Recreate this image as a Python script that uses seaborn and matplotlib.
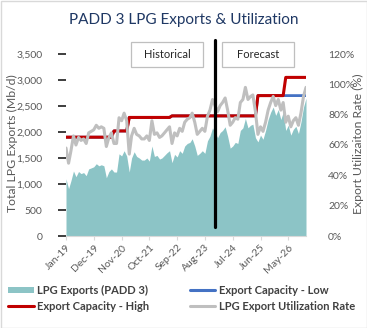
import matplotlib
matplotlib.use("Agg")
import matplotlib.pyplot as plt
from matplotlib.patches import Rectangle, Patch
from matplotlib.lines import Line2D
from matplotlib.ticker import FuncFormatter, PercentFormatter
import pandas as pd
import seaborn as sns

# Monthly series, Jan-2019 .. Dec-2026
months = pd.date_range("2019-01-01", periods=96, freq="MS")

# LPG exports, PADD 3 (Mb/d)
exports = [
    1100, 910, 1060, 1250, 1140, 1240, 1200, 1220, 1160, 1290, 1310, 1330,
    1390, 1350, 1370, 1350, 1120, 1240, 1290, 1230, 1230, 1580, 1540, 1640,
    1540, 1230, 1500, 1620, 1530, 1500, 1460, 1460, 1500, 1440, 1730, 1530,
    1550, 1480, 1500, 1550, 1600, 1640, 1410, 1570, 1520, 1640, 1590, 1730,
    1780, 1800, 1870, 1730, 1550, 1590, 1640, 1590, 1830, 1920, 2080, 1990,
    1890, 1990, 2030, 2100, 1920, 1690, 1730, 1800, 1780, 2030, 2080, 2260,
    2080, 2130, 2150, 1890, 1810, 1940, 1860, 2030, 2240, 2380, 2480, 2320,
    2430, 2240, 2380, 2030, 2130, 1940, 2050, 2110, 1970, 2190, 2480, 2650,
]

# Export capacity, low case (Mb/d)
cap_low = [
    1900, 1900, 1900, 1900, 1900, 1900, 1900, 1900, 1900, 1900, 1900, 1900,
    1900, 1900, 1900, 1900, 1900, 1900, 1900, 2020, 2020, 2020, 2020, 2020,
    2020, 2280, 2280, 2280, 2280, 2280, 2280, 2280, 2280, 2280, 2280, 2280,
    2280, 2280, 2280, 2280, 2280, 2280, 2310, 2310, 2310, 2310, 2310, 2310,
    2310, 2310, 2310, 2310, 2310, 2310, 2310, 2310, 2310, 2310, 2310, 2310,
    2310, 2310, 2310, 2310, 2310, 2310, 2310, 2310, 2310, 2310, 2310, 2310,
    2310, 2310, 2310, 2310, 2700, 2700, 2700, 2700, 2700, 2700, 2700, 2700,
    2700, 2700, 2700, 2700, 2700, 2700, 2700, 2700, 2700, 2700, 2700, 2700,
]

# Export capacity, high case (Mb/d)
cap_high = [
    1900, 1900, 1900, 1900, 1900, 1900, 1900, 1900, 1900, 1900, 1900, 1900,
    1900, 1900, 1900, 1900, 1900, 1900, 1900, 2020, 2020, 2020, 2020, 2020,
    2020, 2280, 2280, 2280, 2280, 2280, 2280, 2280, 2280, 2280, 2280, 2280,
    2280, 2280, 2280, 2280, 2280, 2280, 2310, 2310, 2310, 2310, 2310, 2310,
    2310, 2310, 2310, 2310, 2310, 2310, 2310, 2310, 2310, 2310, 2310, 2310,
    2310, 2310, 2310, 2310, 2310, 2310, 2310, 2310, 2310, 2310, 2310, 2310,
    2310, 2310, 2310, 2310, 2700, 2700, 2700, 2700, 2700, 2700, 2700, 2700,
    2700, 2700, 2700, 3050, 3050, 3050, 3050, 3050, 3050, 3050, 3050, 3050,
]

# Export utilization rate (%)
util = [
    58, 48, 56, 66, 60, 65, 63, 64, 61, 68, 69, 70,
    73, 71, 72, 71, 59, 65, 68, 61, 61, 78, 76, 81,
    76, 54, 66, 71, 67, 66, 64, 64, 66, 63, 76, 67,
    68, 65, 66, 68, 70, 72, 61, 68, 66, 71, 69, 75,
    77, 78, 81, 75, 67, 69, 71, 69, 79, 83, 90, 86,
    82, 86, 88, 91, 83, 73, 75, 78, 77, 88, 90, 98,
    90, 92, 93, 82, 67, 72, 69, 75, 83, 88, 92, 86,
    90, 83, 88, 75, 79, 72, 76, 78, 73, 81, 92, 98,
]

left_ticks = [0, 500, 1000, 1500, 2000, 2500, 3000, 3500]
right_ticks = [0, 20, 40, 60, 80, 100, 120]
split_month = 59          # last historical month (Dec-23)
split_span = (170, 3760)  # divider extent in Mb/d units

TEAL = "#8CC4C6"
RED = "#C00000"
BLUE = "#4472C4"
GREY = "#BFBFBF"
TXT = "#595959"
NAVY = "#1F3864"

sns.set_theme(style="white")
plt.rcParams["font.family"] = ["Lato", "DejaVu Sans"]

fig = plt.figure(figsize=(3.67, 3.28), dpi=100)
W, H = 367, 328
ax = fig.add_axes([66 / W, 1 - 236 / H, (306 - 66) / W, (236 - 54) / H])

# Exports area
ax.fill_between(months, exports, color=TEAL, linewidth=0, zorder=1)
sns.lineplot(x=months, y=cap_low, ax=ax, color=BLUE, linewidth=2.0, legend=False, zorder=2)
sns.lineplot(x=months, y=cap_high, ax=ax, color=RED, linewidth=2.2, legend=False, zorder=3)

ax.set_ylim(0, 3500)
ax.set_xlim(months[0], months[-1])
ax.set_yticks(left_ticks)
ax.yaxis.set_major_formatter(FuncFormatter(lambda v, p: f"{int(v):,}"))
ax.set_xticks(months[::11])
ax.set_xticklabels([d.strftime("%b-%y") for d in months[::11]], rotation=45,
                   ha="right", rotation_mode="anchor")
ax.set_xlabel("")
ax.set_ylabel("")
for s in ["top", "left", "right"]:
    ax.spines[s].set_visible(False)
ax.spines["bottom"].set_color("#D9D9D9")
ax.spines["bottom"].set_linewidth(0.8)
ax.tick_params(axis="x", which="major", bottom=True, length=3, width=0.8,
               color="#D9D9D9", labelsize=7.5, labelcolor=TXT, pad=2)
ax.tick_params(axis="y", left=False, labelsize=7.5, labelcolor=TXT, pad=11)

# Utilization on the secondary axis
ax2 = ax.twinx()
sns.lineplot(x=months, y=util, ax=ax2, color=GREY, linewidth=2.2, legend=False, zorder=3)
ax2.set_ylim(0, 120)
ax2.set_yticks(right_ticks)
ax2.yaxis.set_major_formatter(PercentFormatter(decimals=0))
ax2.set_ylabel("")
for s in ax2.spines.values():
    s.set_visible(False)
ax2.tick_params(axis="y", right=False, labelsize=7.5, labelcolor=TXT, pad=10)

# Historical / forecast divider
ax2.plot([months[split_month]] * 2, list(split_span), color="black", linewidth=2.3,
         transform=ax.transData, clip_on=False, zorder=5)

# Title and axis titles
fig.text(0.5, 1 - 20 / H, "PADD 3 LPG Exports & Utilization", ha="center", va="center",
         fontsize=11, color=NAVY, family=["Liberation Sans Narrow", "Lato", "DejaVu Sans"])
fig.text(12 / W, 1 - 143 / H, "Total LPG Exports (Mb/d)", rotation=90, ha="center",
         va="center", fontsize=8.8, color=TXT)
fig.text(358 / W, 1 - 144 / H, "Export Utilizaiton Rate (%)", rotation=90, ha="center",
         va="center", fontsize=8.8, color=TXT)

# Section labels
for x0, label in [(131, "Historical"), (222, "Forecast")]:
    fig.add_artist(Rectangle((x0 / W, 1 - 67 / H), 72 / W, 25 / H, transform=fig.transFigure,
                             facecolor="white", edgecolor="#BFBFBF", linewidth=0.9, zorder=6))
    fig.text((x0 + 36) / W, 1 - 54.5 / H, label, ha="center", va="center", fontsize=8,
             color="#262626", zorder=7)

# Legend
handles = [
    Patch(facecolor=TEAL, edgecolor="none"),
    Line2D([], [], color=RED, linewidth=2.2),
    Line2D([], [], color=BLUE, linewidth=2.2),
    Line2D([], [], color=GREY, linewidth=2.2),
]
labels = ["LPG Exports (PADD 3)", "Export Capacity - High",
          "Export Capacity - Low", "LPG Export Utilization Rate"]
fig.legend(handles, labels, ncol=2, loc="upper left", bbox_to_anchor=(8 / W, 1 - 285 / H),
           frameon=False, prop={"size": 8, "weight": "bold"}, labelcolor="#404040",
           handlelength=2.3, handleheight=0.55, handletextpad=0.35, columnspacing=3.6,
           labelspacing=0.45, borderaxespad=0, borderpad=0)

fig.add_artist(Rectangle((0.5 / W, 0.5 / H), 1 - 1 / W, 1 - 1 / H, transform=fig.transFigure,
                         facecolor="none", edgecolor="#D9D9D9", linewidth=1.0))

fig.savefig("out.png", dpi=100, facecolor="white")
